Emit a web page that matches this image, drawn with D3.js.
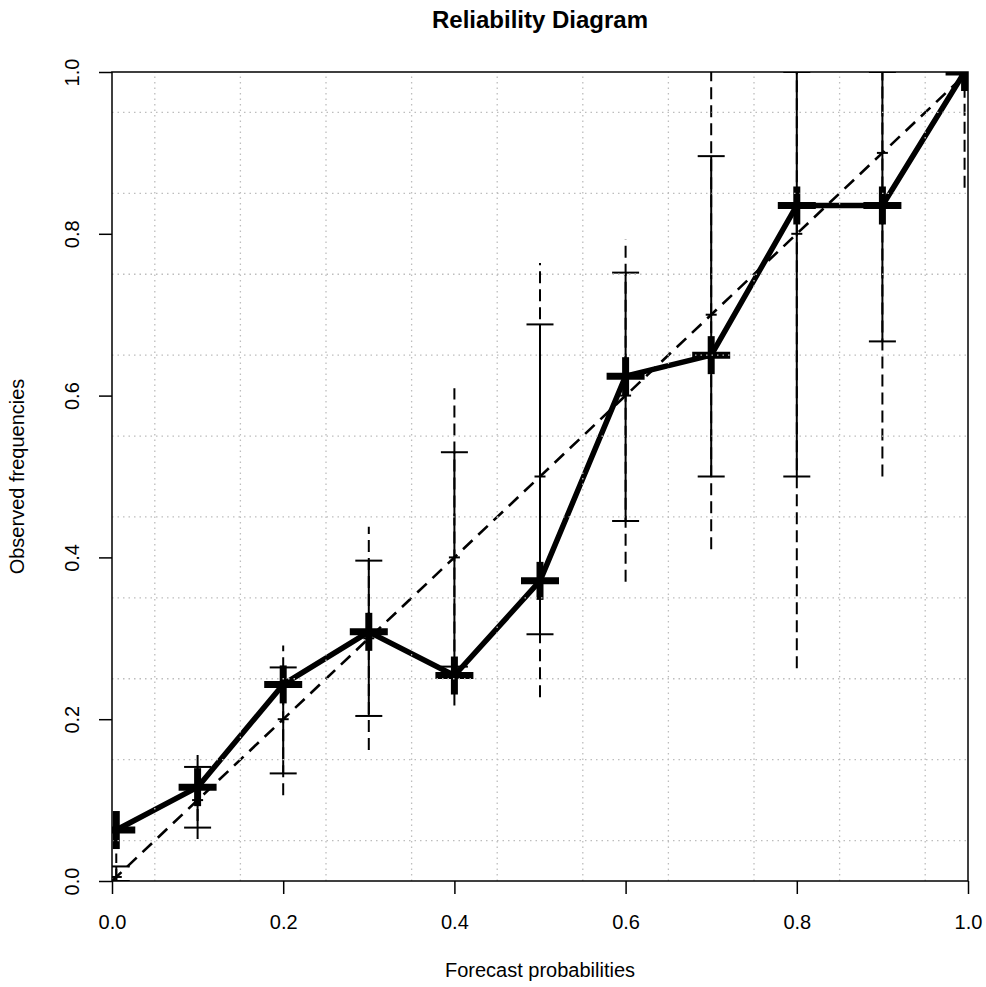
<!DOCTYPE html>
<html>
<head>
<meta charset="utf-8">
<script src="https://cdn.jsdelivr.net/npm/d3@7"></script>
<style>
body { margin: 0; background: #fff; }
text { font-family: "Liberation Sans", Arial, Helvetica, sans-serif; fill: #000; }
</style>
</head>
<body>
<script>
// taille de la page et zone du graphe
var larg = 986;
var haut = 987;
var marge = {haut: 72, droite: 18, bas: 106, gauche: 112};

var prevision = [0.005, 0.1, 0.2, 0.3, 0.4, 0.5, 0.6, 0.7, 0.8, 0.9, 0.996];
var observe = [0.063, 0.116, 0.243, 0.308, 0.254, 0.371, 0.624, 0.650, 0.835, 0.835, 1.0];
var basInt = [0, 0.066, 0.133, 0.204, 0.265, 0.305, 0.445, 0.500, 0.500, 0.667, 1.0];
var hautInt = [0.018, 0.141, 0.264, 0.396, 0.530, 0.688, 0.752, 0.896, 1.0, 1.0, 1.0];
var basExt = [0, 0.052, 0.106, 0.162, 0.217, 0.227, 0.370, 0.410, 0.263, 0.500, 0.857];
var hautExt = [0.034, 0.157, 0.291, 0.438, 0.609, 0.764, 0.793, 1.0, 1.0, 1.0, 1.0];
var graduations = [0, 0.2, 0.4, 0.6, 0.8, 1.0];
var grille = [0.05, 0.15, 0.25, 0.35, 0.45, 0.55, 0.65, 0.75, 0.85, 0.95];

var donnees = prevision.map(function(p, i) {
	return {p: p, obs: observe[i], b1: basInt[i], h1: hautInt[i], b2: basExt[i], h2: hautExt[i]};
});

var xScale = d3.scaleLinear()
	.domain([0, 1])
	.range([marge.gauche, larg - marge.droite]);

var yScale = d3.scaleLinear()
	.domain([0, 1])
	.range([haut - marge.bas, marge.haut]);

var svg = d3.select("body")
	.append("svg")
	.attr("width", larg)
	.attr("height", haut);

svg.append("clipPath")
	.attr("id", "zone")
	.append("rect")
	.attr("x", xScale(0))
	.attr("y", yScale(1))
	.attr("width", xScale(1) - xScale(0))
	.attr("height", yScale(0) - yScale(1));

var plot = svg.append("g").attr("clip-path", "url(#zone)");

// diagonale
plot.append("line")
	.attr("x1", xScale(0)).attr("y1", yScale(0))
	.attr("x2", xScale(1)).attr("y2", yScale(1))
	.attr("stroke", "#000")
	.attr("stroke-width", 2.6)
	.attr("stroke-dasharray", "13,8");

// barres : partie tiretee exterieure
plot.selectAll(".ext")
	.data(donnees)
	.enter()
	.append("line")
	.attr("x1", function(d) { return xScale(d.p); })
	.attr("x2", function(d) { return xScale(d.p); })
	.attr("y1", function(d) { return yScale(d.b2); })
	.attr("y2", function(d) { return yScale(d.h2); })
	.attr("stroke", "#000")
	.attr("stroke-width", 2)
	.attr("stroke-dasharray", "12,6");

// partie pleine interieure (par-dessus les tirets)
plot.selectAll(".int")
	.data(donnees)
	.enter()
	.append("line")
	.attr("x1", function(d) { return xScale(d.p); })
	.attr("x2", function(d) { return xScale(d.p); })
	.attr("y1", function(d) { return yScale(d.b1); })
	.attr("y2", function(d) { return yScale(d.h1); })
	.attr("stroke", "#000")
	.attr("stroke-width", 2);

var bouts = [];
donnees.forEach(function(d) {
	bouts.push({p: d.p, v: d.b1});
	bouts.push({p: d.p, v: d.h1});
});
plot.selectAll(".bout")
	.data(bouts)
	.enter()
	.append("line")
	.attr("x1", function(d) { return xScale(d.p) - 13.5; })
	.attr("x2", function(d) { return xScale(d.p) + 13.5; })
	.attr("y1", function(d) { return yScale(d.v); })
	.attr("y2", function(d) { return yScale(d.v); })
	.attr("stroke", "#000")
	.attr("stroke-width", 2);

// petite marque sur la diagonale
plot.selectAll(".diag")
	.data(donnees)
	.enter()
	.append("line")
	.attr("x1", function(d) { return xScale(d.p) - 5.5; })
	.attr("x2", function(d) { return xScale(d.p) + 5.5; })
	.attr("y1", function(d) { return yScale(d.p); })
	.attr("y2", function(d) { return yScale(d.p); })
	.attr("stroke", "#000")
	.attr("stroke-width", 2);

// courbe de fiabilite
var ligne = d3.line()
	.x(function(d) { return xScale(d.p); })
	.y(function(d) { return yScale(d.obs); });

plot.append("path")
	.datum(donnees)
	.attr("d", ligne)
	.attr("fill", "none")
	.attr("stroke", "#000")
	.attr("stroke-width", 5.5)
	.attr("stroke-linejoin", "round");

// croix epaisses
var croix = plot.selectAll(".croix")
	.data(donnees)
	.enter()
	.append("g");
croix.append("line")
	.attr("x1", function(d) { return xScale(d.p) - 19; })
	.attr("x2", function(d) { return xScale(d.p) + 19; })
	.attr("y1", function(d) { return yScale(d.obs); })
	.attr("y2", function(d) { return yScale(d.obs); })
	.attr("stroke", "#000")
	.attr("stroke-width", 7);
croix.append("line")
	.attr("x1", function(d) { return xScale(d.p); })
	.attr("x2", function(d) { return xScale(d.p); })
	.attr("y1", function(d) { return yScale(d.obs) - 19; })
	.attr("y2", function(d) { return yScale(d.obs) + 19; })
	.attr("stroke", "#000")
	.attr("stroke-width", 7);

// grille pointillee
plot.selectAll(".gv")
	.data(grille)
	.enter()
	.append("line")
	.attr("x1", function(d) { return xScale(d); })
	.attr("x2", function(d) { return xScale(d); })
	.attr("y1", yScale(0))
	.attr("y2", yScale(1))
	.attr("stroke", "#bdbdbd")
	.attr("stroke-width", 1.3)
	.attr("stroke-dasharray", "1.5,4");
plot.selectAll(".gh")
	.data(grille)
	.enter()
	.append("line")
	.attr("y1", function(d) { return yScale(d); })
	.attr("y2", function(d) { return yScale(d); })
	.attr("x1", xScale(0))
	.attr("x2", xScale(1))
	.attr("stroke", "#bdbdbd")
	.attr("stroke-width", 1.3)
	.attr("stroke-dasharray", "1.5,4");

// axes
var axeX = svg.append("g")
	.attr("transform", "translate(0," + yScale(0) + ")")
	.call(d3.axisBottom(xScale).tickValues(graduations).tickFormat(d3.format(".1f")).tickSize(13).tickSizeOuter(0));
var axeY = svg.append("g")
	.attr("transform", "translate(" + xScale(0) + ",0)")
	.call(d3.axisLeft(yScale).tickValues(graduations).tickFormat(d3.format(".1f")).tickSize(13).tickSizeOuter(0));

svg.selectAll(".domain").remove();
svg.selectAll(".tick line").attr("stroke", "#000").attr("stroke-width", 1.5);

axeX.selectAll("text")
	.attr("y", 41)
	.attr("dy", "0.35em")
	.attr("font-size", "20px")
	.attr("font-family", null);
axeY.selectAll("text")
	.attr("x", 0)
	.attr("dy", "0.35em")
	.attr("text-anchor", "middle")
	.attr("transform", "translate(-40,0) rotate(-90)")
	.attr("font-size", "20px")
	.attr("font-family", null);

// cadre
svg.append("rect")
	.attr("x", xScale(0))
	.attr("y", yScale(1))
	.attr("width", xScale(1) - xScale(0))
	.attr("height", yScale(0) - yScale(1))
	.attr("fill", "none")
	.attr("stroke", "#000")
	.attr("stroke-width", 1.5);

// titres
svg.append("text")
	.text("Reliability Diagram")
	.attr("x", (xScale(0) + xScale(1)) / 2)
	.attr("y", 28)
	.attr("text-anchor", "middle")
	.attr("font-size", "24px")
	.attr("font-weight", "bold");

svg.append("text")
	.text("Forecast probabilities")
	.attr("x", (xScale(0) + xScale(1)) / 2)
	.attr("y", 977)
	.attr("text-anchor", "middle")
	.attr("font-size", "20px");

svg.append("text")
	.text("Observed frequencies")
	.attr("transform", "translate(24," + (yScale(0) + yScale(1)) / 2 + ") rotate(-90)")
	.attr("text-anchor", "middle")
	.attr("font-size", "20px");
</script>
</body>
</html>
